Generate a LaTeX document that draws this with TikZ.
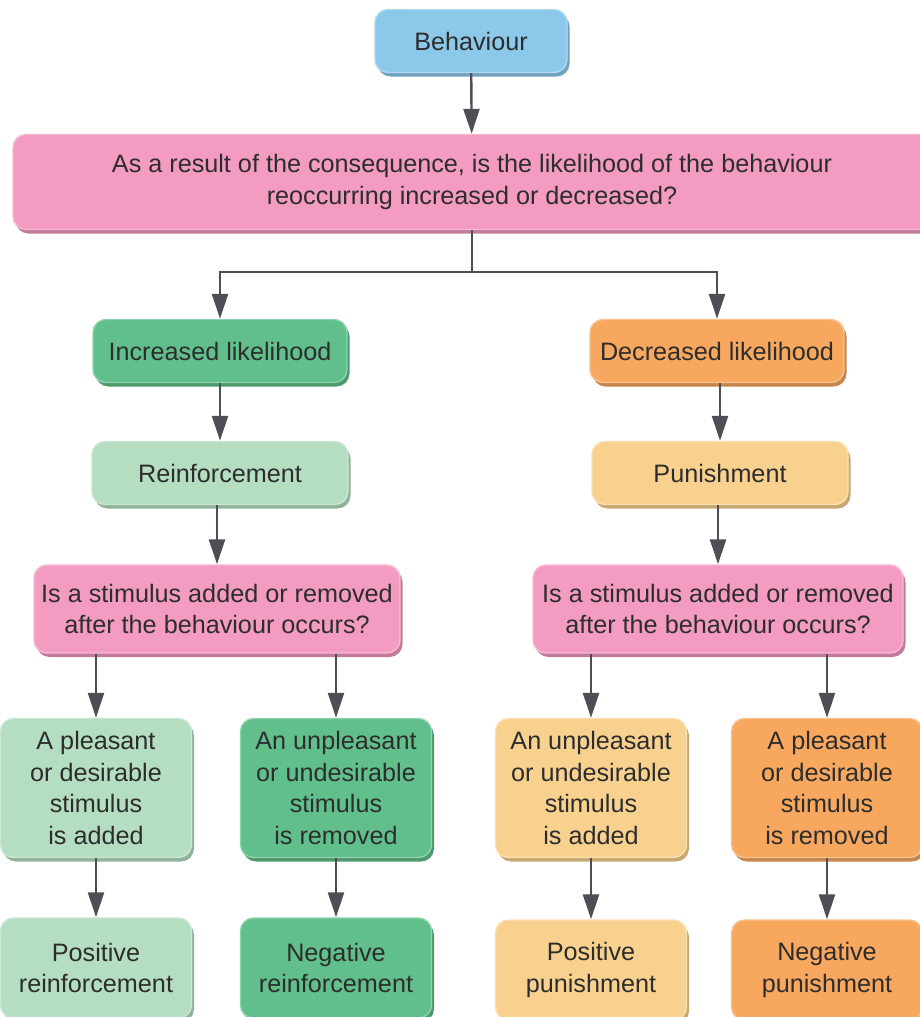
\documentclass[tikz,border=0pt]{standalone}
\usepackage{fontspec}
\setmainfont{Liberation Sans}
\usetikzlibrary{arrows.meta,shadows}

\definecolor{behblue}{RGB}{140,200,234}
\definecolor{askpink}{RGB}{243,155,192}
\definecolor{incgreen}{RGB}{96,191,138}
\definecolor{reigreen}{RGB}{180,221,193}
\definecolor{decorange}{RGB}{247,167,94}
\definecolor{punorange}{RGB}{248,209,143}
\definecolor{arrowgrey}{RGB}{78,79,84}
\definecolor{textgrey}{RGB}{45,45,45}

\tikzset{
  box/.style={rounded corners=13pt,align=center,inner sep=2pt,text=textgrey,
    font=\fontsize{25.2}{31.7}\selectfont},
  tone/.style={fill=#1,draw=#1!70!white,line width=1.4pt,
    drop shadow={shadow xshift=2.5pt,shadow yshift=-4pt,fill=#1!80!black,opacity=1}},
  arr/.style={draw=arrowgrey,line width=2.4pt,-{Triangle[width=16pt,length=25pt]}},
  wire/.style={draw=arrowgrey,line width=2.4pt}
}

\begin{document}
\begin{tikzpicture}[x=1pt,y=1pt]
\useasboundingbox (0,0) rectangle (919,-1017);

% top of the tree
\node [box,tone=behblue,name=beh,minimum width=192pt,minimum height=63pt] at (471,-41){Behaviour};
\node [box,tone=askpink,name=ask,minimum width=918pt,minimum height=95pt] at (472,-182)
  {As a result of the consequence, is the likelihood of the behaviour\\reoccurring increased or decreased?};

% the two branches
\node [box,tone=incgreen,name=inc,minimum width=254pt,minimum height=63pt] at (220,-351){Increased likelihood};
\node [box,tone=decorange,name=dec,minimum width=254pt,minimum height=63pt] at (717,-351){Decreased likelihood};
\node [box,tone=reigreen,name=rei,minimum width=256pt,minimum height=63pt] at (220,-473){Reinforcement};
\node [box,tone=punorange,name=pun,minimum width=256pt,minimum height=63pt] at (720,-473){Punishment};
\node [box,tone=askpink,name=askl,minimum width=366pt,minimum height=88pt] at (217,-609)
  {Is a stimulus added or removed\\after the behaviour occurs?};
\node [box,tone=askpink,name=askr,minimum width=370pt,minimum height=88pt] at (718,-609)
  {Is a stimulus added or removed\\after the behaviour occurs?};

% stimulus added / removed
\node [box,tone=reigreen,name=sa1,minimum width=191pt,minimum height=139pt] at (96,-788)
  {A pleasant\\or desirable\\stimulus\\is added};
\node [box,tone=incgreen,name=sr1,minimum width=191pt,minimum height=139pt] at (336,-788)
  {An unpleasant\\or undesirable\\stimulus\\is removed};
\node [box,tone=punorange,name=sa2,minimum width=191pt,minimum height=139pt] at (591,-788)
  {An unpleasant\\or undesirable\\stimulus\\is added};
\node [box,tone=decorange,name=sr2,minimum width=191pt,minimum height=139pt] at (827,-788)
  {A pleasant\\or desirable\\stimulus\\is removed};

% outcomes
\node [box,tone=reigreen,name=posr,minimum width=191pt,minimum height=100pt] at (96,-968){Positive\\reinforcement};
\node [box,tone=incgreen,name=negr,minimum width=191pt,minimum height=100pt] at (336,-968){Negative\\reinforcement};
\node [box,tone=punorange,name=posp,minimum width=191pt,minimum height=100pt] at (591,-970){Positive\\punishment};
\node [box,tone=decorange,name=negp,minimum width=191pt,minimum height=100pt] at (827,-970){Negative\\punishment};

\coordinate (fork) at (472,-272);

\draw[arr] (beh)--(ask);
\draw[wire] (ask)--(fork);
\draw[arr] (fork)-|(inc);
\draw[arr] (fork)-|(dec);
\draw[arr] (inc)--(rei);
\draw[arr] (dec.south -| pun.north)--(pun.north);
\draw[arr] (rei.south -| askl.north)--(askl.north);
\draw[arr] (pun.south -| askr.north)--(askr.north);
\draw[arr] (askl.south -| sa1.north)--(sa1.north);
\draw[arr] (askl.south -| sr1.north)--(sr1.north);
\draw[arr] (askr.south -| sa2.north)--(sa2.north);
\draw[arr] (askr.south -| sr2.north)--(sr2.north);
\draw[arr] (sa1)--(posr);
\draw[arr] (sr1)--(negr);
\draw[arr] (sa2)--(posp);
\draw[arr] (sr2)--(negp);
\end{tikzpicture}
\end{document}
